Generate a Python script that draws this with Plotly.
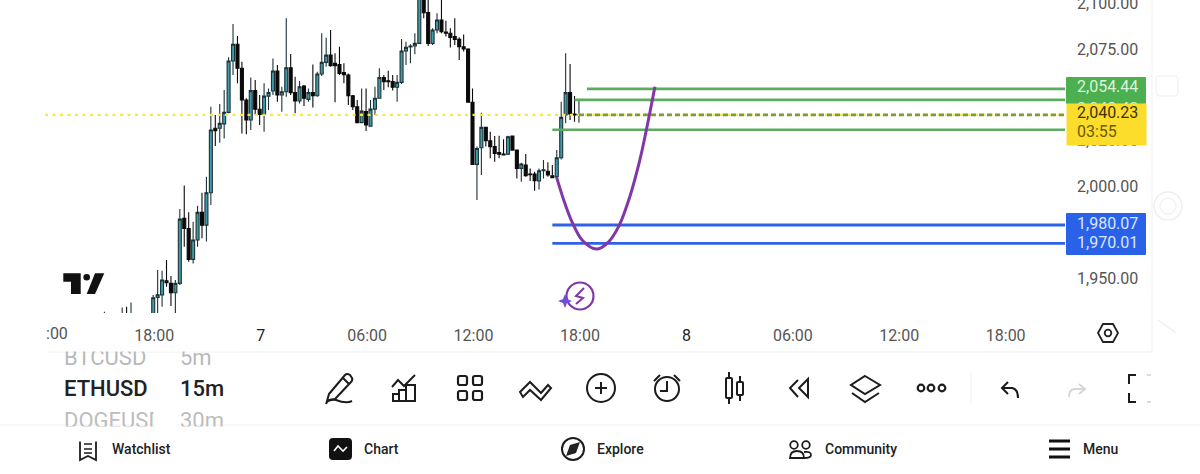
import re
import pandas as pd
import plotly.graph_objects as go

W, H = 1200, 474

# ---------- data ----------
first_bar = "2024-01-06 15:15"   # bar index -11; 18:00 is bar 0
open_ = [1924,1926,1925,1927,1925,1927,1926,1928,1926,1929,1927,
 1930,1940.5,1941.8,1949.6,1948.2,1943.1,1948.2,1983.7,1978.2,1961.3,1971.9,1987,1980,1997.7,2032.9,2032.9,2035.3,2041.6,2069.7,2078.8,2065.7,2048.4,2037.4,2053.5,2043.3,2040.5,2050.5,2053.3,2064.2,2051.1,2052.9,2066,2052.4,2047.8,2056,2048.7,2052.4,2050.7,2062.6,2068.9,2072.9,2068.4,2067.8,2063.3,2062,2050.7,2044.7,2036,2042,2034.1,2043.4,2049.3,2060.7,2058.9,2058.4,2055.3,2058,2075.1,2077.3,2077.9,2079.3,2104.8,2096.1,2079.3,2086.6,2092.1,2085.5,2084.8,2083,2081.5,2077.5,2076.2,2047.1,2013.2,2022.3,2033.4,2026.1,2022.9,2019.6,2018.8,2018.7,2028.7,2021,2011,2012.8,2007.9,2007.9,2004.1,2009.7,2009.4,2007,2006.5,2016.8,2040.2,2052.4,2040.7,2040.2]
high = [1932.7,1929,1929,1930,1935,1935.4,1937.8,1931,1930,1931,1931,
 1941.8,1955.5,1955.1,1961,1952.2,1950,1988.8,2001.7,1987,1981.9,1990.6,1997.7,2006.5,2044.7,2040.2,2046.2,2053.8,2071.7,2089.9,2083.3,2069.3,2049.3,2060.7,2059.3,2051.1,2057.5,2054.7,2071.1,2067.5,2055.6,2093,2073.5,2061.1,2058.7,2056.6,2054.7,2067.8,2063.8,2084.8,2082.4,2086.6,2073.9,2077.5,2068.4,2062.9,2051.1,2048.4,2054.7,2054.7,2048.4,2055.6,2065.7,2062,2064.4,2062,2062,2081.7,2080.2,2078.8,2084.8,2110.3,2108.5,2103,2087.5,2095.7,2103.9,2091.7,2087.5,2093,2082.6,2084.2,2076.6,2054.7,2022.9,2041.4,2033.8,2031,2028.7,2028.9,2026.9,2028.9,2028.9,2021,2014.1,2018.8,2011,2009.2,2011,2015.6,2014.3,2012.8,2021,2047.4,2073.9,2068,2050.5,2048.7]
low = [1921,1922,1921,1923,1922,1924,1923,1925,1923,1925,1924,
 1928,1930,1935.4,1946.4,1935.8,1930,1947.3,1968.2,1960,1959.1,1968.2,1972.8,1971,1991,2023.2,2025,2027.4,2041.1,2062,2057.5,2030.1,2029.6,2032,2040.2,2034.7,2031,2042.9,2051.1,2047.4,2042,2050.2,2051.1,2041.1,2046.5,2045.1,2047.4,2044.3,2050.2,2061.5,2066.6,2066.6,2047.1,2062,2057.5,2045.6,2042.9,2035.6,2035.6,2031.4,2034.1,2040.2,2049.3,2053.8,2055.3,2053.5,2047.4,2057.1,2067.5,2068.4,2073.3,2079.3,2093,2077.9,2078.4,2084.8,2084.8,2083,2077,2078.4,2070.2,2074.8,2047.1,2012.8,1993.7,2007.4,2022.9,2016.5,2014.7,2016.5,2018.3,2018.3,2020.7,2005.5,2003.7,2006.5,2004.1,1998.8,1999.5,2005.5,2006.5,2005.9,2005.9,2015.9,2035.6,2037.4,2036.5,2036]
close = [1926,1925,1927,1925,1927,1926,1928,1926,1929,1927,1930,
 1940.3,1942,1950,1948.5,1943.1,1948.2,1983.3,1978.2,1961.3,1971.9,1987,1980,1997.7,2032,2031.6,2035.6,2041.6,2069.7,2078.8,2065.7,2048.4,2037.4,2053.5,2043.3,2040.5,2050.5,2052.5,2064.2,2051.1,2052.9,2066,2052.4,2047.8,2055.6,2049.3,2052.5,2050.7,2062.6,2068.9,2072.9,2067.1,2067.1,2062.9,2062.2,2050.7,2044.7,2036,2042.3,2034.7,2043.4,2049.3,2060.7,2058.4,2058.4,2055.3,2058,2075.1,2077.1,2077.9,2079.3,2105.7,2096.1,2079.3,2086.6,2092.1,2085.7,2084.8,2082.6,2081.5,2077.5,2076.2,2047.1,2013.2,2021.9,2033.4,2026.1,2022.9,2019.2,2018.7,2018.3,2028.3,2021,2011,2013.4,2007,2007.5,2004.3,2009.7,2010.3,2007.4,2005.9,2016.8,2038.9,2052.4,2040.7,2040.2,2040.23]

last_price = 2040.23
green_levels = [2054.44, 2048.42, 2032.10]
green_starts = ["2024-01-07 18:27", "2024-01-07 17:45", "2024-01-07 16:30"]
blue_levels = [1980.07, 1970.01]
blue_starts = ["2024-01-07 16:30", "2024-01-07 16:30"]
line_end = "2024-01-08 21:24"
x_start = "2024-01-06 11:54"

curve_t = ["2024-01-07 16:44","2024-01-07 17:12","2024-01-07 17:39","2024-01-07 18:12","2024-01-07 18:59","2024-01-07 19:38","2024-01-07 20:15","2024-01-07 20:51","2024-01-07 21:25","2024-01-07 21:48","2024-01-07 22:17"]
curve_p = [2006.4,1992.1,1980.9,1971.6,1966.9,1970.5,1979.5,1995,2015,2032,2055.6]

x_ticks = ["2024-01-06 18:00","2024-01-07 00:00","2024-01-07 06:00","2024-01-07 12:00","2024-01-07 18:00","2024-01-08 00:00","2024-01-08 06:00","2024-01-08 12:00","2024-01-08 18:00"]
x_labels = ["18:00","<span style='color:#222'>7</span>","06:00","12:00","18:00","<span style='color:#222'>8</span>","06:00","12:00","18:00"]
y_ticks = [1950, 2000, 2025, 2050, 2075, 2100]

times = pd.date_range(first_bar, periods=len(open_), freq="15min")

# ---------- helpers: pixel → paper ----------
def P(x, y):
    return x / W, 1 - y / H

def path(d):
    toks = re.findall(r"[MLQCZ]|-?\d+\.?\d*", d)
    out, i = [], 0
    while i < len(toks):
        t = toks[i]
        if t.isalpha():
            out.append(t); i += 1
        else:
            x, y = P(float(t), float(toks[i + 1]))
            out.append(f"{x:.5f},{y:.5f}"); i += 2
    return " ".join(out)

shapes, annos = [], []
def stroke(d, color="#1c1c1c", w=2, fill=None):
    shapes.append(dict(type="path", xref="paper", yref="paper", path=path(d),
                       line=dict(color=color, width=w), fillcolor=fill or "rgba(0,0,0,0)"))
def solid(d, color="#111"):
    shapes.append(dict(type="path", xref="paper", yref="paper", path=path(d),
                       line=dict(width=0), fillcolor=color))
def circ(cx, cy, r, color="#1c1c1c", w=2, fill=None):
    x0, y1 = P(cx - r, cy - r); x1, y0 = P(cx + r, cy + r)
    shapes.append(dict(type="circle", xref="paper", yref="paper", x0=x0, y0=y0, x1=x1, y1=y1,
                       line=dict(color=color, width=w), fillcolor=fill or "rgba(0,0,0,0)"))
def rrect(x0, y0, x1, y1, r=2):
    return (f"M{x0+r} {y0} L{x1-r} {y0} Q{x1} {y0} {x1} {y0+r} L{x1} {y1-r} Q{x1} {y1} {x1-r} {y1} "
            f"L{x0+r} {y1} Q{x0} {y1} {x0} {y1-r} L{x0} {y0+r} Q{x0} {y0} {x0+r} {y0} Z")
def text(x, y, s, size=16, color="#222", anchor="left", weight=400):
    px, py = P(x - 1, y)
    annos.append(dict(xref="paper", yref="paper", x=px, y=py, text=s, showarrow=False,
                      xanchor=anchor, yanchor="middle", borderpad=0,
                      font=dict(family="Roboto", size=size, color=color, weight=weight)))
def box(x0, y0, x1, y1, color):
    px, py = P(x0, y0)
    annos.append(dict(xref="paper", yref="paper", x=px, y=py, text=" ", showarrow=False,
                      xanchor="left", yanchor="top", width=x1 - x0 - 1, height=y1 - y0 - 2,
                      bgcolor=color, borderpad=0, font=dict(size=1)))

# ---------- traces ----------
fig = go.Figure()
fig.add_trace(go.Scatter(x=[x_start, line_end], y=[last_price, last_price], mode="lines",
                         line=dict(color="#FBE73A", width=2.2, dash="3px,4.5px"), hoverinfo="skip"))
fig.add_trace(go.Candlestick(
    x=times, open=open_, high=high, low=low, close=close,
    increasing=dict(line=dict(color="#1E3338", width=1.1), fillcolor="#3F9BAB"),
    decreasing=dict(line=dict(color="#0A0A0A", width=1.1), fillcolor="#0A0A0A"),
    whiskerwidth=0))
for lvl, st in zip(green_levels, green_starts):
    fig.add_trace(go.Scatter(x=[st, line_end], y=[lvl, lvl], mode="lines",
                             line=dict(color="#5CAB5F", width=2.6), hoverinfo="skip"))
fig.add_trace(go.Scatter(x=["2024-01-07 18:00", line_end], y=[last_price, last_price], mode="lines",
                         line=dict(color="#7C9A35", width=2.6, dash="5px,3px"), hoverinfo="skip"))
for lvl, st in zip(blue_levels, blue_starts):
    fig.add_trace(go.Scatter(x=[st, line_end], y=[lvl, lvl], mode="lines",
                             line=dict(color="#2F62E6", width=2.8), hoverinfo="skip"))
fig.add_trace(go.Scatter(x=curve_t, y=curve_p, mode="lines",
                         line=dict(color="#8137A8", width=3, shape="spline", smoothing=1.0),
                         hoverinfo="skip"))

# ---------- price labels ----------
solid(rrect(1066, 77, 1146, 104, 1), "#4CAF50")
solid(rrect(1066, 213, 1146, 255, 1), "#2962E8")
text(1077, 87, f"{green_levels[0]:,.2f}", 16, "#DDF3DD")
text(1077, 109, f"{green_levels[1]:,.2f}", 16, "#DDF3DD")
box(1066, 103, 1146, 146, "#FDDD2C")
text(1077, 113, f"{last_price:,.2f}", 16, "#3A3200")
text(1077, 132, "03:55", 16, "#6B5A00")
text(1077, 223, f"{blue_levels[0]:,.2f}", 16, "#DCE6FF")
text(1077, 242, f"{blue_levels[1]:,.2f}", 16, "#DCE6FF")

# ---------- logo + replay mark ----------
solid("M63.3 273.3 L80.7 273.3 L80.7 294 L71 294 L71 281.7 L63.3 281.7 Z", "#111")
circ(86.7, 277.3, 3.3, "#111", 0, "#111")
solid("M95 273.3 L104.3 273.3 L95 294 L86.7 294 Z", "#111")
circ(580, 296, 13.5, "#8137A8", 2.2, "#FFFFFF")
solid("M565 294 L567 299 L572 301 L567 303 L565 308 L563 303 L558 301 L563 299 Z", "#6A4FDC")
stroke("M584 288 L576 296 L583 298 L576 304", "#8137A8", 2)

# ---------- chrome ----------
stroke("M48 352 L1152 352", "#EFEFEF", 1)
stroke("M1152 0 L1152 352", "#F0F0F0", 1)
stroke("M0 425 L1200 425", "#F1F1F1", 1)
stroke("M971 373 L971 403", "#EEEEEE", 1)
stroke(rrect(1156, 76, 1178, 96, 4), "#F3F3F3", 1.5)
circ(1168, 206, 14, "#EFEFEF", 1.5)
circ(1168, 206, 8, "#F2F2F2", 1.5)
stroke("M1158 320 L1176 333", "#EEEEEE", 1.5)

# axis ':00' clipped at the left edge, settings hexagon
text(46, 333, ":00", 16, "#555")
stroke("M1098 333 L1103 324 L1113 324 L1118 333 L1113 342 L1103 342 Z", "#222", 1.8)
circ(1108, 333, 3.3, "#222", 1.8)

# symbol / interval wheel
text(64, 357, "BTCUSD", 22, "#B9B9B9")
text(180, 357, "5m", 22, "#B9B9B9")
box(50, 342, 240, 352, "#FFFFFF")
text(64, 388, "ETHUSD", 22, "#222", weight=500)
text(180, 388, "15m", 22, "#222", weight=500)
text(64, 420, "DOGEUSD", 22, "#BDBDBD")
text(180, 420, "30m", 22, "#BDBDBD")
box(50, 426, 240, 442, "#FFFFFF")
box(153, 408, 176, 428, "#FFFFFF")

# toolbar icons
stroke("M329 394 L345 375 Q347 373 350 375 L352 378 Q353 380 351 382 L335 399 L327 401 Z M343 378 L349 384")
stroke("M326 404 Q328 398 336 400 Q346 404 352 401")
stroke("M392 387 L398 380 L404 386 L415 375")
stroke("M393 401 L393 394 L399 394 L399 401 M399 401 L399 390 L406 390 L406 401 M406 401 L406 385 L415 385 L415 401 L392 401")
for (a, b) in [(458, 376), (473, 376), (458, 391), (473, 391)]:
    stroke(rrect(a, b, a + 9, b + 9, 2), w=2.2)
stroke("M520 392 L530 382 L541 393 L548 385 L551 388 L541 400 L530 390 L523 397 Z", w=2)
circ(601, 388, 14)
stroke("M595 388 L607 388 M601 382 L601 394")
circ(667, 389, 12)
stroke("M667 381 L667 391 L660 391 M654 381 L660 375 M680 381 L674 375")
stroke(rrect(726, 378, 732, 398, 1))
stroke(rrect(737, 382, 743, 395, 1))
stroke("M729 372 L729 378 M729 398 L729 404 M740 376 L740 382 M740 395 L740 401")
stroke("M798 380 L790 388 L798 397 M808 379 L799 388 L808 397 Z")
stroke("M865 376 L880 385 L865 394 L851 385 Z M852 393 L865 402 L879 393")
for cx in (921, 931, 942):
    circ(cx, 388, 3.3, w=2.2)
stroke("M1008 382 L1002 388 L1008 394 M1002 388 L1012 388 Q1018 389 1018 398")
stroke("M1079 384 L1085 389 L1079 394 M1085 389 L1074 389 Q1069 390 1069 397", "#D6D6D6")
stroke("M1136 375 L1129 375 L1129 384 M1129 393 L1129 402 L1136 402")
stroke("M1147 375 L1151 375 M1147 402 L1151 402", "#DDDDDD")

# bottom nav
stroke("M80 439 L96 439 L96 460 L88 456 L80 460 Z", w=1.8)
stroke("M84 444 L92 444 M84 449 L92 449 M84 453 L92 453", w=1.5)
solid(rrect(329, 438, 352, 460, 4), "#111")
stroke("M334 451 L338 446 L343 451 L347 447", "#FFFFFF", 1.6)
circ(573, 449, 11, w=2)
solid("M580 442 L576 453 L566 456 L570 445 Z", "#222")
circ(794, 445, 3.8, w=1.8)
circ(806, 445, 3.8, w=1.8)
stroke("M790 458 Q790 451 797 451 Q804 451 804 458 Z", w=1.8)
stroke("M804 452 Q811 451 811 455 Q811 458 804 458", w=1.8)
stroke("M1049 441 L1070 441 M1049 449 L1070 449 M1049 457 L1070 457", "#111", 3)
text(112, 449, "Watchlist", 14, "#222", weight=500)
text(364, 449, "Chart", 14, "#222", weight=500)
text(597, 449, "Explore", 14, "#222", weight=500)
text(825, 449, "Community", 14, "#222", weight=500)
text(1083, 449, "Menu", 14, "#222", weight=500)

fig.update_layout(
    width=W, height=H, margin=dict(l=0, r=0, t=0, b=0),
    paper_bgcolor="#FFFFFF", plot_bgcolor="#FFFFFF", showlegend=False, boxgap=0.04,
    font=dict(family="Roboto", size=16, color="#555"),
    shapes=shapes, annotations=annos,
    xaxis=dict(type="date", domain=[45 / W, 1065 / W], range=[x_start, line_end], automargin=False,
               tickmode="array", tickvals=x_ticks, ticktext=x_labels, tickangle=0,
               showgrid=False, zeroline=False, showline=False, ticks="", ticklabelstandoff=11,
               ticklabelshift=1,
               rangeslider=dict(visible=False), tickfont=dict(family="Roboto", size=16, color="#555")),
    yaxis=dict(side="right", anchor="x", domain=[1 - 313 / H, 1], range=[1932.0, 2103.0], automargin=False,
               tickmode="array", tickvals=y_ticks, tickformat=",.2f",
               showgrid=False, zeroline=False, showline=False, ticks="", ticklabelstandoff=11,
               ticklabelshift=-2, ticklabeloverflow="allow",
               tickfont=dict(family="Roboto", size=16, color="#555")),
)

fig.write_html("out.html", config=dict(displayModeBar=False),
               post_script="document.body.style.margin='0';document.body.style.overflow='hidden';")
